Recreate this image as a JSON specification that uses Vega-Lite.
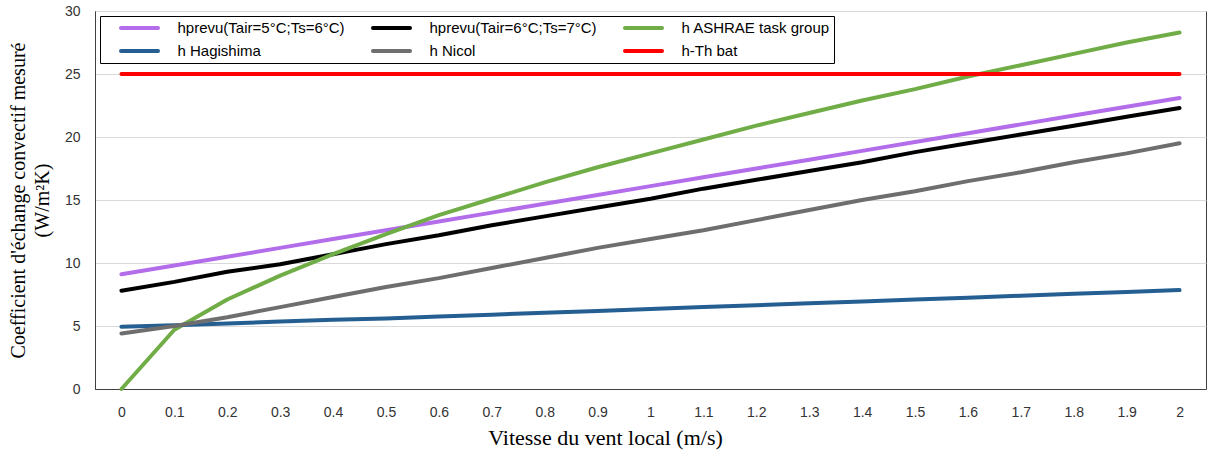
{
  "$schema": "https://vega.github.io/schema/vega-lite/v6.json",
  "width": 1111,
  "height": 378,
  "autosize": "none",
  "padding": {"left": 95, "top": 11, "right": 1, "bottom": 66},
  "background": "white",
  "config": {
    "view": {"stroke": "#404040", "strokeWidth": 1},
    "axis": {"labelFont": "Liberation Sans", "labelFontSize": 14, "labelColor": "#333333", "titleFont": "Liberation Serif", "titleFontWeight": "normal", "titleFontSize": 20, "titleColor": "#000000"}
  },
  "data": {"values": [
    {"v":0,"s":"hprevu(Tair=5°C;Ts=6°C)","h":9.1},{"v":0.1,"s":"hprevu(Tair=5°C;Ts=6°C)","h":9.8},{"v":0.2,"s":"hprevu(Tair=5°C;Ts=6°C)","h":10.5},{"v":0.3,"s":"hprevu(Tair=5°C;Ts=6°C)","h":11.2},{"v":0.4,"s":"hprevu(Tair=5°C;Ts=6°C)","h":11.9},{"v":0.5,"s":"hprevu(Tair=5°C;Ts=6°C)","h":12.6},{"v":0.6,"s":"hprevu(Tair=5°C;Ts=6°C)","h":13.3},{"v":0.7,"s":"hprevu(Tair=5°C;Ts=6°C)","h":14.0},{"v":0.8,"s":"hprevu(Tair=5°C;Ts=6°C)","h":14.7},{"v":0.9,"s":"hprevu(Tair=5°C;Ts=6°C)","h":15.4},{"v":1.0,"s":"hprevu(Tair=5°C;Ts=6°C)","h":16.1},{"v":1.1,"s":"hprevu(Tair=5°C;Ts=6°C)","h":16.8},{"v":1.2,"s":"hprevu(Tair=5°C;Ts=6°C)","h":17.5},{"v":1.3,"s":"hprevu(Tair=5°C;Ts=6°C)","h":18.2},{"v":1.4,"s":"hprevu(Tair=5°C;Ts=6°C)","h":18.9},{"v":1.5,"s":"hprevu(Tair=5°C;Ts=6°C)","h":19.6},{"v":1.6,"s":"hprevu(Tair=5°C;Ts=6°C)","h":20.3},{"v":1.7,"s":"hprevu(Tair=5°C;Ts=6°C)","h":21.0},{"v":1.8,"s":"hprevu(Tair=5°C;Ts=6°C)","h":21.7},{"v":1.9,"s":"hprevu(Tair=5°C;Ts=6°C)","h":22.4},{"v":2.0,"s":"hprevu(Tair=5°C;Ts=6°C)","h":23.1},
    {"v":0,"s":"hprevu(Tair=6°C;Ts=7°C)","h":7.8},{"v":0.1,"s":"hprevu(Tair=6°C;Ts=7°C)","h":8.5},{"v":0.2,"s":"hprevu(Tair=6°C;Ts=7°C)","h":9.3},{"v":0.3,"s":"hprevu(Tair=6°C;Ts=7°C)","h":9.9},{"v":0.4,"s":"hprevu(Tair=6°C;Ts=7°C)","h":10.7},{"v":0.5,"s":"hprevu(Tair=6°C;Ts=7°C)","h":11.5},{"v":0.6,"s":"hprevu(Tair=6°C;Ts=7°C)","h":12.2},{"v":0.7,"s":"hprevu(Tair=6°C;Ts=7°C)","h":13.0},{"v":0.8,"s":"hprevu(Tair=6°C;Ts=7°C)","h":13.7},{"v":0.9,"s":"hprevu(Tair=6°C;Ts=7°C)","h":14.4},{"v":1.0,"s":"hprevu(Tair=6°C;Ts=7°C)","h":15.1},{"v":1.1,"s":"hprevu(Tair=6°C;Ts=7°C)","h":15.9},{"v":1.2,"s":"hprevu(Tair=6°C;Ts=7°C)","h":16.6},{"v":1.3,"s":"hprevu(Tair=6°C;Ts=7°C)","h":17.3},{"v":1.4,"s":"hprevu(Tair=6°C;Ts=7°C)","h":18.0},{"v":1.5,"s":"hprevu(Tair=6°C;Ts=7°C)","h":18.8},{"v":1.6,"s":"hprevu(Tair=6°C;Ts=7°C)","h":19.5},{"v":1.7,"s":"hprevu(Tair=6°C;Ts=7°C)","h":20.2},{"v":1.8,"s":"hprevu(Tair=6°C;Ts=7°C)","h":20.9},{"v":1.9,"s":"hprevu(Tair=6°C;Ts=7°C)","h":21.6},{"v":2.0,"s":"hprevu(Tair=6°C;Ts=7°C)","h":22.3},
    {"v":0,"s":"h ASHRAE task group","h":0.0},{"v":0.1,"s":"h ASHRAE task group","h":4.7},{"v":0.2,"s":"h ASHRAE task group","h":7.1},{"v":0.3,"s":"h ASHRAE task group","h":9.0},{"v":0.4,"s":"h ASHRAE task group","h":10.7},{"v":0.5,"s":"h ASHRAE task group","h":12.3},{"v":0.6,"s":"h ASHRAE task group","h":13.8},{"v":0.7,"s":"h ASHRAE task group","h":15.1},{"v":0.8,"s":"h ASHRAE task group","h":16.4},{"v":0.9,"s":"h ASHRAE task group","h":17.6},{"v":1.0,"s":"h ASHRAE task group","h":18.7},{"v":1.1,"s":"h ASHRAE task group","h":19.8},{"v":1.2,"s":"h ASHRAE task group","h":20.9},{"v":1.3,"s":"h ASHRAE task group","h":21.9},{"v":1.4,"s":"h ASHRAE task group","h":22.9},{"v":1.5,"s":"h ASHRAE task group","h":23.8},{"v":1.6,"s":"h ASHRAE task group","h":24.8},{"v":1.7,"s":"h ASHRAE task group","h":25.7},{"v":1.8,"s":"h ASHRAE task group","h":26.6},{"v":1.9,"s":"h ASHRAE task group","h":27.5},{"v":2.0,"s":"h ASHRAE task group","h":28.3},
    {"v":0,"s":"h Hagishima","h":4.95},{"v":0.1,"s":"h Hagishima","h":5.05},{"v":0.2,"s":"h Hagishima","h":5.2},{"v":0.3,"s":"h Hagishima","h":5.35},{"v":0.4,"s":"h Hagishima","h":5.5},{"v":0.5,"s":"h Hagishima","h":5.6},{"v":0.6,"s":"h Hagishima","h":5.75},{"v":0.7,"s":"h Hagishima","h":5.9},{"v":0.8,"s":"h Hagishima","h":6.05},{"v":0.9,"s":"h Hagishima","h":6.2},{"v":1.0,"s":"h Hagishima","h":6.35},{"v":1.1,"s":"h Hagishima","h":6.5},{"v":1.2,"s":"h Hagishima","h":6.65},{"v":1.3,"s":"h Hagishima","h":6.8},{"v":1.4,"s":"h Hagishima","h":6.95},{"v":1.5,"s":"h Hagishima","h":7.1},{"v":1.6,"s":"h Hagishima","h":7.25},{"v":1.7,"s":"h Hagishima","h":7.4},{"v":1.8,"s":"h Hagishima","h":7.55},{"v":1.9,"s":"h Hagishima","h":7.7},{"v":2.0,"s":"h Hagishima","h":7.85},
    {"v":0,"s":"h Nicol","h":4.4},{"v":0.1,"s":"h Nicol","h":5.0},{"v":0.2,"s":"h Nicol","h":5.7},{"v":0.3,"s":"h Nicol","h":6.5},{"v":0.4,"s":"h Nicol","h":7.3},{"v":0.5,"s":"h Nicol","h":8.1},{"v":0.6,"s":"h Nicol","h":8.8},{"v":0.7,"s":"h Nicol","h":9.6},{"v":0.8,"s":"h Nicol","h":10.4},{"v":0.9,"s":"h Nicol","h":11.2},{"v":1.0,"s":"h Nicol","h":11.9},{"v":1.1,"s":"h Nicol","h":12.6},{"v":1.2,"s":"h Nicol","h":13.4},{"v":1.3,"s":"h Nicol","h":14.2},{"v":1.4,"s":"h Nicol","h":15.0},{"v":1.5,"s":"h Nicol","h":15.7},{"v":1.6,"s":"h Nicol","h":16.5},{"v":1.7,"s":"h Nicol","h":17.2},{"v":1.8,"s":"h Nicol","h":18.0},{"v":1.9,"s":"h Nicol","h":18.7},{"v":2.0,"s":"h Nicol","h":19.5},
    {"v":0,"s":"h-Th bat","h":25},{"v":0.1,"s":"h-Th bat","h":25},{"v":0.2,"s":"h-Th bat","h":25},{"v":0.3,"s":"h-Th bat","h":25},{"v":0.4,"s":"h-Th bat","h":25},{"v":0.5,"s":"h-Th bat","h":25},{"v":0.6,"s":"h-Th bat","h":25},{"v":0.7,"s":"h-Th bat","h":25},{"v":0.8,"s":"h-Th bat","h":25},{"v":0.9,"s":"h-Th bat","h":25},{"v":1.0,"s":"h-Th bat","h":25},{"v":1.1,"s":"h-Th bat","h":25},{"v":1.2,"s":"h-Th bat","h":25},{"v":1.3,"s":"h-Th bat","h":25},{"v":1.4,"s":"h-Th bat","h":25},{"v":1.5,"s":"h-Th bat","h":25},{"v":1.6,"s":"h-Th bat","h":25},{"v":1.7,"s":"h-Th bat","h":25},{"v":1.8,"s":"h-Th bat","h":25},{"v":1.9,"s":"h-Th bat","h":25},{"v":2.0,"s":"h-Th bat","h":25}
  ]},
  "mark": {"type": "line", "strokeWidth": 4, "strokeCap": "round", "strokeJoin": "round"},
  "encoding": {
    "x": {
      "field": "v", "type": "quantitative",
      "scale": {"domain": [-0.05, 2.05], "nice": false, "zero": false},
      "axis": {
        "values": [0, 0.1, 0.2, 0.3, 0.4, 0.5, 0.6, 0.7, 0.8, 0.9, 1, 1.1, 1.2, 1.3, 1.4, 1.5, 1.6, 1.7, 1.8, 1.9, 2],
        "format": ".1~f", "grid": false, "ticks": false, "domainColor": "#404040",
        "labelPadding": 16, "title": "Vitesse du vent local (m/s)", "titleFontSize": 22, "titlePadding": 8, "titleX": 510, "labelFlush": false, "labelOverlap": false
      }
    },
    "y": {
      "field": "h", "type": "quantitative",
      "scale": {"domain": [0, 30], "nice": false},
      "axis": {
        "values": [0, 5, 10, 15, 20, 25, 30], "grid": true, "gridColor": "#d9d9d9", "ticks": false,
        "domainColor": "#404040", "labelPadding": 15,
        "title": ["Coefficient d'échange convectif mesuré", "(W/m²K)"], "titlePadding": 12, "titleLineHeight": 24
      }
    },
    "color": {
      "field": "s", "type": "nominal",
      "scale": {
        "domain": ["hprevu(Tair=5°C;Ts=6°C)", "hprevu(Tair=6°C;Ts=7°C)", "h ASHRAE task group", "h Hagishima", "h Nicol", "h-Th bat"],
        "range": ["#B36DEB", "#000000", "#70AD47", "#255E91", "#6E6E6E", "#FF0000"]
      },
      "legend": {
        "title": null, "orient": "none", "legendX": 5, "legendY": 5, "direction": "horizontal", "columns": 3,
        "symbolType": "stroke", "symbolSize": 1369, "symbolStrokeWidth": 4, "clipHeight": 17, "symbolOffset": 15.5,
        "labelFont": "Liberation Sans", "labelFontSize": 15, "labelColor": "#000000", "labelOffset": 17.5, "labelLimit": 400,
        "columnPadding": 10, "rowPadding": 6, "strokeColor": "#000000", "padding": 3.5,
        "encode": {"symbols": {"update": {"strokeCap": {"value": "round"}}}}
      }
    }
  }
}
